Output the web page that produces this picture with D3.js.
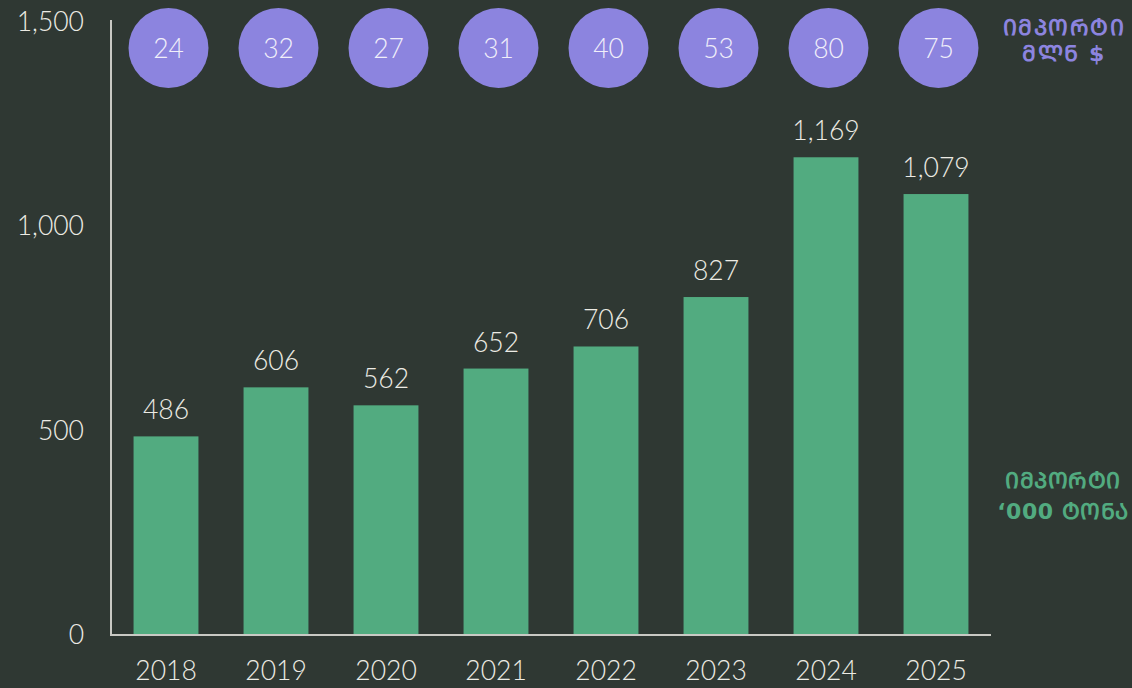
<!DOCTYPE html>
<html><head><meta charset="utf-8">
<script src="https://cdn.jsdelivr.net/npm/d3@7"></script>
<style>
html,body{margin:0;padding:0;background:#2f3833;}
svg{display:block;}
</style></head>
<body>
<svg id="chart" width="1132" height="688"></svg>
<script>
const years = ["2018","2019","2020","2021","2022","2023","2024","2025"];
const tons = [486, 606, 562, 652, 706, 827, 1169, 1079];
const usd = [24, 32, 27, 31, 40, 53, 80, 75];
const yTicks = [0, 500, 1000, 1500];
const usdLabel = ["ᲘᲛᲞᲝᲠᲢᲘ", "ᲛᲚᲜ $"];
const tonLabel = ["ᲘᲛᲞᲝᲠᲢᲘ", "‘000 ᲢᲝᲜᲐ"];

const svg = d3.select("#chart");
const W = 1132, H = 688;
svg.append("rect").attr("width", W).attr("height", H).attr("fill", "#2f3833");

const font = "Lato, 'Open Sans', sans-serif";
const fs = 26.5;
const txt = "#ecebe4";
const x = d3.scaleBand().domain(years).range([111, 991]).paddingInner(0.41).paddingOuter(0.205);
const y = d3.scaleLinear().domain([0, 1500]).range([635, 22]);

// bars
svg.selectAll("rect.bar").data(years).enter().append("rect")
  .attr("class", "bar")
  .attr("x", d => x(d))
  .attr("width", x.bandwidth())
  .attr("y", (d, i) => y(tons[i]))
  .attr("height", (d, i) => y(0) - y(tons[i]))
  .attr("fill", "#52ab80");

// value labels
svg.selectAll("text.val").data(years).enter().append("text")
  .attr("x", d => x(d) + x.bandwidth() / 2)
  .attr("y", (d, i) => y(tons[i]) - 17)
  .attr("text-anchor", "middle")
  .attr("font-family", font).attr("font-weight", 300).attr("font-size", fs)
  .attr("fill", txt)
  .text((d, i) => d3.format(",")(tons[i]));

// axes
const yAxis = svg.append("g").attr("transform", "translate(111,0)")
  .call(d3.axisLeft(y).tickValues(yTicks).tickFormat(d3.format(",")).tickSize(0).tickPadding(27));
yAxis.select(".domain").attr("stroke", "#c9c9c4").attr("stroke-width", 2).attr("d", "M0," + (y(1500) - 2) + "V" + y(0));
yAxis.selectAll("text").attr("font-family", font).attr("font-weight", 300).attr("font-size", fs).attr("fill", txt);

const xAxis = svg.append("g").attr("transform", "translate(0,635)")
  .call(d3.axisBottom(x).tickSize(0).tickPadding(26));
xAxis.select(".domain").attr("stroke", "#c9c9c4").attr("stroke-width", 2).attr("d", "M110,0H991");
xAxis.selectAll("text").attr("font-family", font).attr("font-weight", 300).attr("font-size", fs).attr("fill", txt);

// circles
const cg = svg.selectAll("g.circ").data(years).enter().append("g")
  .attr("transform", d => `translate(${x(d) + x.bandwidth() / 2 + 2.5},48)`);
cg.append("circle").attr("r", 40).attr("fill", "#8c84df");
cg.append("text").attr("text-anchor", "middle").attr("dy", "0.36em")
  .attr("font-family", font).attr("font-weight", 300).attr("font-size", fs)
  .attr("fill", "#f1effa").text((d, i) => usd[i]);

// side labels
svg.append("text").attr("text-anchor", "middle").attr("font-family", "'DejaVu Sans', sans-serif")
  .attr("font-weight", "bold").attr("font-size", 22).attr("letter-spacing", 1.5).attr("fill", "#8c84df")
  .selectAll("tspan").data(usdLabel).enter().append("tspan")
  .attr("x", 1064).attr("y", (d, i) => 35 + i * 26).text(d => d);
svg.append("text").attr("text-anchor", "middle").attr("font-family", "'DejaVu Sans', sans-serif")
  .attr("font-weight", "bold").attr("font-size", 22).attr("letter-spacing", 0.5).attr("fill", "#52ab80")
  .selectAll("tspan").data(tonLabel).enter().append("tspan")
  .attr("x", 1063).attr("y", (d, i) => 488 + i * 31).text(d => d);
</script>
</body></html>
